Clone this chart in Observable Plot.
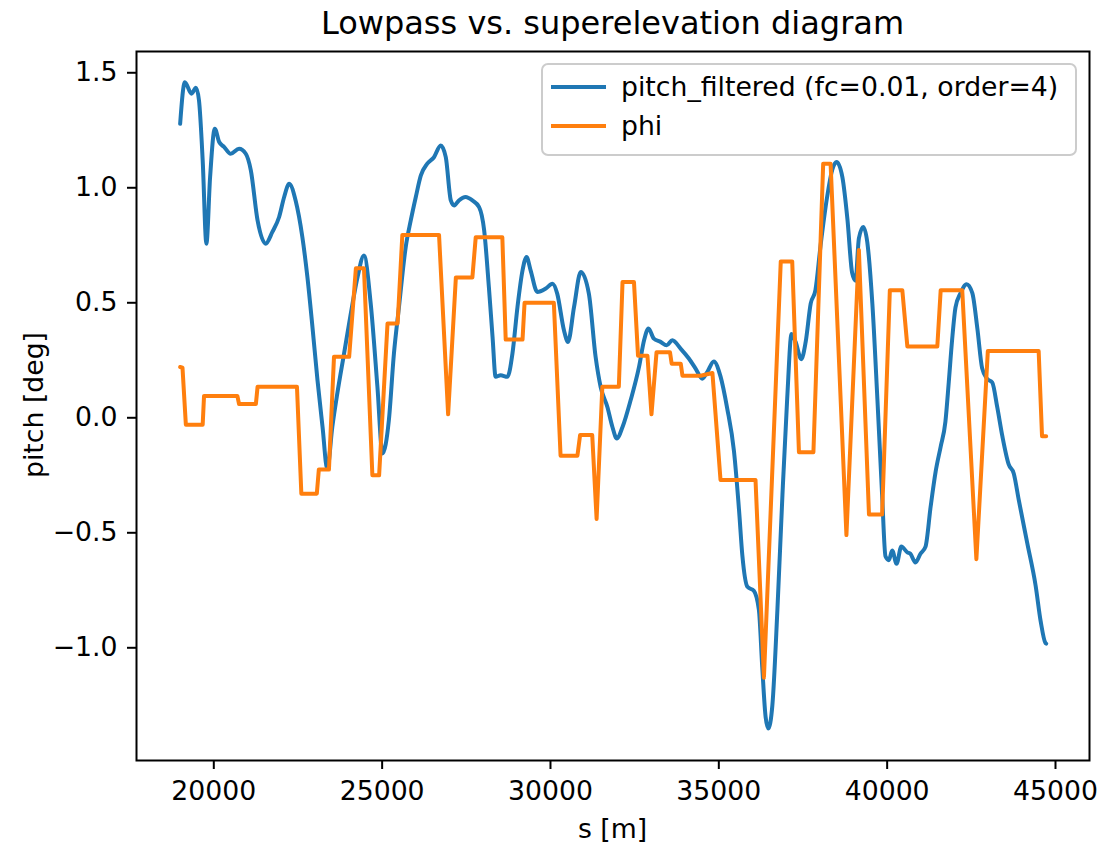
<!DOCTYPE html>
<html><head><meta charset="utf-8">
<script src="https://cdn.jsdelivr.net/npm/d3@7"></script>
<script src="https://cdn.jsdelivr.net/npm/@observablehq/plot@0.6"></script>
<style>body{margin:0;background:#fff} svg{font-family:"DejaVu Sans",sans-serif}</style>
</head><body><div id="chart"></div>
<script>
const sPitch = [19000,19140,19340,19470,19560,19670,19780,19890,20030,20160,
20310,20500,20750,20950,21100,21300,21540,21740,21940,22090,
22240,22430,22630,22780,22930,23080,23230,23370,23520,23670,
23870,24070,24270,24460,24660,24860,25010,25200,25350,25500,
25700,25850,26000,26150,26340,26540,26740,26890,27040,27140,
27280,27480,27680,27880,28030,28170,28280,28370,28520,28720,
28870,29020,29170,29290,29410,29610,29860,30060,30200,30400,
30520,30700,30900,31140,31340,31490,31690,31840,31970,32140,
32380,32630,32780,32910,33070,33270,33450,33620,33870,34110,
34310,34510,34660,34850,35050,35250,35450,35600,35700,35850,
36040,36190,36290,36390,36470,36590,36740,36890,37030,37160,
37280,37450,37580,37730,37870,38020,38220,38370,38500,38670,
38820,38960,39060,39160,39290,39410,39560,39710,39850,39950,
40050,40150,40280,40420,40600,40690,40840,40990,41140,41290,
41440,41590,41730,41830,41930,42030,42180,42360,42530,42680,
42820,42970,43120,43270,43420,43610,43760,43910,44160,44410,
44560,44700,44723];
const pitchFiltered = [1.278,1.459,1.409,1.435,1.38,1.119,0.757,1.046,1.257,1.199,
1.177,1.148,1.170,1.148,1.076,0.858,0.757,0.808,0.873,0.960,
1.018,0.945,0.786,0.612,0.395,0.163,-0.040,-0.223,-0.040,0.107,
0.28,0.454,0.612,0.706,0.497,0.134,-0.155,-0.01,0.279,0.482,
0.742,0.858,0.960,1.054,1.105,1.133,1.184,1.133,0.945,0.923,
0.945,0.960,0.945,0.916,0.815,0.569,0.351,0.178,0.185,0.178,
0.279,0.482,0.641,0.699,0.641,0.547,0.562,0.583,0.540,0.381,
0.330,0.482,0.634,0.540,0.265,0.134,0.047,-0.040,-0.090,-0.040,
0.076,0.221,0.337,0.388,0.344,0.330,0.315,0.337,0.300,0.258,
0.214,0.170,0.200,0.245,0.180,0.040,-0.145,-0.40,-0.60,-0.735,
-0.752,-0.835,-1.084,-1.301,-1.351,-1.251,-0.835,-0.335,0.081,0.364,
0.330,0.255,0.330,0.497,0.555,0.746,0.963,1.079,1.112,1.046,
0.863,0.630,0.596,0.780,0.830,0.763,0.497,0.081,-0.335,-0.602,
-0.619,-0.577,-0.635,-0.560,-0.585,-0.591,-0.629,-0.591,-0.560,-0.388,
-0.234,-0.125,-0.017,0.155,0.340,0.480,0.542,0.581,0.542,0.387,
0.216,0.169,0.154,0.046,-0.079,-0.203,-0.242,-0.358,-0.544,-0.730,
-0.885,-0.979,-0.982];
const sPhi = [19000,19070,19170,19670,19710,20700,20750,21250,21300,22470,
22600,23060,23120,23420,23570,24020,24220,24460,24710,24910,
25160,25460,25600,26690,26960,27190,27680,27780,28570,28670,
29170,29230,30100,30300,30800,30880,31240,31370,31540,32030,
32140,32480,32600,32880,33000,33150,33550,33600,33870,33920,
34460,34810,35050,36090,36340,36840,37180,37380,37810,38100,
38320,38790,39160,39460,39850,40080,40450,40600,41490,41590,
42230,42650,42990,44500,44600,44723];
const phi = [0.221,0.218,-0.030,-0.030,0.095,0.095,0.060,0.060,0.135,0.135,
-0.33,-0.33,-0.225,-0.225,0.265,0.265,0.650,0.650,-0.25,-0.25,
0.41,0.41,0.795,0.795,0.015,0.61,0.61,0.785,0.785,0.34,
0.34,0.50,0.50,-0.165,-0.165,-0.075,-0.075,-0.44,0.135,0.135,
0.59,0.59,0.27,0.27,0.015,0.285,0.285,0.235,0.235,0.183,
0.183,0.195,-0.27,-0.27,-1.13,0.68,0.68,-0.15,-0.15,1.105,
1.105,-0.51,0.73,-0.42,-0.42,0.555,0.555,0.31,0.31,0.555,
0.555,-0.615,0.29,0.29,-0.08,-0.08];

const xTicks = [20000,25000,30000,35000,40000,45000];
const yTicks = [-1.0,-0.5,0.0,0.5,1.0,1.5];
const seriesLabels = ["pitch_filtered (fc=0.01, order=4)", "phi"];
const seriesColors = ["#1f77b4", "#ff7f0e"];
const titleText = "Lowpass vs. superelevation diagram";
const xLabel = "s [m]";
const yLabel = "pitch [deg]";

const pitchData = sPitch.map((s, i) => ({s, v: pitchFiltered[i]}));
const phiData = sPhi.map((s, i) => ({s, v: phi[i]}));
const fmtY = d => d.toFixed(1).replace("-", "\u2212");

const FS = 26.7;
const chart = Plot.plot({
  width: 1100, height: 848,
  marginLeft: 136, marginRight: 11, marginTop: 51, marginBottom: 88,
  style: {fontFamily: "DejaVu Sans", fontSize: FS + "px", background: "white", color: "black", overflow: "visible"},
  x: {domain: [17704, 46010]},
  y: {domain: [-1.490, 1.5925]},
  marks: [
    Plot.axisX({ticks: xTicks, tickSize: 9, tickPadding: 12, tickFormat: d => String(d), label: null, strokeWidth: 2, fontSize: FS}),
    Plot.axisY({ticks: yTicks, tickSize: 9, tickPadding: 10, tickFormat: fmtY, label: null, strokeWidth: 2, fontSize: FS}),
    Plot.line(pitchData, {x: "s", y: "v", stroke: seriesColors[0], strokeWidth: 4, curve: "monotone-x"}),
    Plot.line(phiData, {x: "s", y: "v", stroke: seriesColors[1], strokeWidth: 4}),
    Plot.frame({stroke: "black", strokeWidth: 2})
  ]
});
document.getElementById("chart").appendChild(chart);

const svg = d3.select(chart);
svg.append("text").attr("x", 612.5).attr("y", 34).attr("text-anchor", "middle")
  .attr("font-size", 32).attr("fill", "black").text(titleText);
svg.append("text").attr("x", 612.5).attr("y", 838).attr("text-anchor", "middle")
  .attr("font-size", FS).attr("fill", "black").text(xLabel);
svg.append("text").attr("transform", "translate(43,405) rotate(-90)").attr("text-anchor", "middle")
  .attr("font-size", FS).attr("fill", "black").text(yLabel);

const lg = svg.append("g");
lg.append("rect").attr("x", 542).attr("y", 64).attr("width", 534).attr("height", 91)
  .attr("rx", 6).attr("fill", "white").attr("fill-opacity", 0.8)
  .attr("stroke", "#cccccc").attr("stroke-width", 2);
seriesLabels.forEach((lab, i) => {
  const yy = 87 + i * 39;
  lg.append("line").attr("x1", 551).attr("x2", 606).attr("y1", yy).attr("y2", yy)
    .attr("stroke", seriesColors[i]).attr("stroke-width", 4);
  lg.append("text").attr("x", 621).attr("y", yy).attr("dy", "0.35em")
    .attr("text-anchor", "start")
    .attr("font-size", FS).attr("fill", "black").text(lab);
});
</script></body></html>
